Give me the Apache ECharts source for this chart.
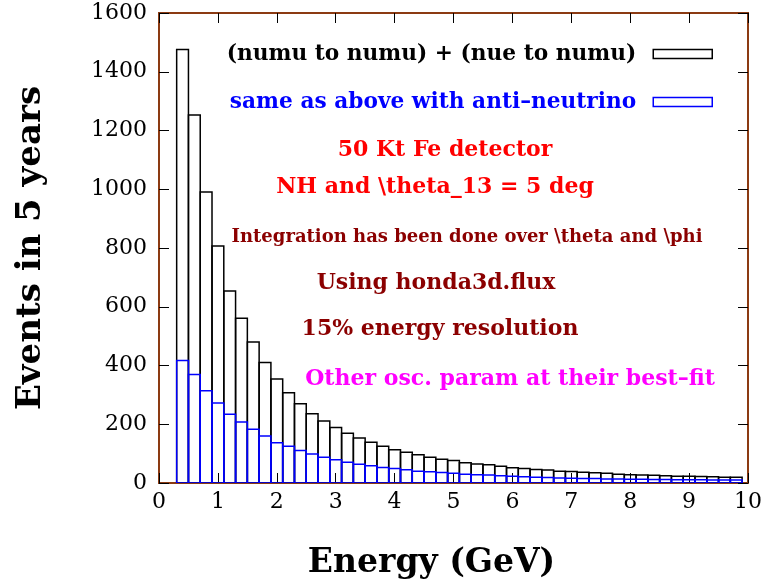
<!DOCTYPE html>
<html>
<head>
<meta charset="utf-8">
<script src="https://cdn.jsdelivr.net/npm/echarts@6/dist/echarts.min.js"></script>
<style>
html,body{margin:0;padding:0;background:#fff;}
#chart{width:768px;height:586px;}
</style>
</head>
<body>
<div id="chart"></div>
<script>
// Bin centres (GeV), bin width 0.2 GeV
const binCenters = [0.4,0.6,0.8,1.0,1.2,1.4,1.6,1.8,2.0,2.2,2.4,2.6,2.8,3.0,3.2,3.4,3.6,3.8,4.0,4.2,4.4,4.6,4.8,5.0,5.2,5.4,5.6,5.8,6.0,6.2,6.4,6.6,6.8,7.0,7.2,7.4,7.6,7.8,8.0,8.2,8.4,8.6,8.8,9.0,9.2,9.4,9.6,9.8];
const binWidth = 0.2;
const neutrinoEvents = [1476,1253,991,807,654,561,480,410,354,307,270,236,211,189,169,153,139,125,113,105,96,88,81,77,69,65,62,57,52,49,46,44,40,39,37,35,33,30,28,27,26,25,23,23,22,21,20,20];
const antiNeutrinoEvents = [417,369,314,272,234,208,183,160,137,125,111,99,88,79,71,64,59,53,49,45,40,38,36,33,30,28,27,25,23,21,20,19,17,16,15,15,14,14,13,13,12,12,11,11,11,10,10,10];
const xTicks = [0,1,2,3,4,5,6,7,8,9,10];
const yTicks = [0,200,400,600,800,1000,1200,1400,1600];
const seriesNames = ['(numu to numu) + (nue to numu)', 'same as above with anti\u2013neutrino'];
const notes = [
  {text:'50 Kt Fe detector', color:'#ff0000'},
  {text:'NH and \\theta_13 = 5 deg', color:'#ff0000'},
  {text:'Integration has been done over \\theta and \\phi', color:'#8b0000'},
  {text:'Using honda3d.flux', color:'#8b0000'},
  {text:'15% energy resolution', color:'#8b0000'},
  {text:'Other osc. param at their best\u2013fit', color:'#ff00ff'}
];

const FONT = '"DejaVu Serif", serif';
const chart = echarts.init(document.getElementById('chart'), null, {renderer:'canvas'});

function histData(vals){
  return binCenters.map((c,i)=>[c-binWidth/2, c+binWidth/2, vals[i]]);
}
function makeRender(color){
  return function(params, api){
    const a = api.coord([api.value(0), api.value(2)]);
    const b = api.coord([api.value(1), 0]);
    return {type:'rect', shape:{x:a[0], y:a[1], width:b[0]-a[0], height:b[1]-a[1]},
      style:{fill:'none', stroke:color, lineWidth:1.5}};
  };
}

const noteLayout = [
  {x:445, y:150, size:22},
  {x:435, y:187, size:22},
  {x:467, y:237, size:18},
  {x:436, y:283, size:22},
  {x:440, y:329, size:22},
  {x:510, y:379, size:22}
];

const tick = {show:true, inside:true, length:10, lineStyle:{color:'#000', width:1}};
const hiddenLine = {show:false, onZero:false};

chart.setOption({
  backgroundColor:'#fff',
  animation:false,
  grid:{left:159, top:13, width:589, height:470, containLabel:false, outerBoundsMode:'none',
        show:true, borderColor:'#8B3A12', borderWidth:2, backgroundColor:'transparent'},
  xAxis:[
    {type:'value', position:'bottom', min:0, max:10, interval:1,
      name:'Energy (GeV)', nameLocation:'middle', nameGap:64,
      nameTextStyle:{fontFamily:FONT, fontWeight:'bold', fontSize:33, color:'#000', padding:[0,44,0,0]},
      axisLine:hiddenLine, splitLine:{show:false}, axisTick:tick,
      axisLabel:{fontFamily:FONT, fontSize:22, color:'#000', margin:8,
        formatter:(v)=> xTicks.includes(v) ? String(v) : ''}},
    {type:'value', position:'top', min:0, max:10, interval:1,
      axisLine:hiddenLine, splitLine:{show:false}, axisLabel:{show:false}, axisTick:tick}
  ],
  yAxis:[
    {type:'value', min:0, max:1600, interval:200, position:'left',
     name:'Events in 5 years', nameLocation:'middle', nameGap:111,
     nameTextStyle:{fontFamily:FONT, fontWeight:'bold', fontSize:34, color:'#000'},
     axisLine:hiddenLine, splitLine:{show:false}, axisTick:tick,
     axisLabel:{fontFamily:FONT, fontSize:22, color:'#000', margin:12,
       formatter:(v)=> yTicks.includes(v) ? String(v) : ''}},
    {type:'value', min:0, max:1600, interval:200, position:'right',
     axisLine:hiddenLine, splitLine:{show:false}, axisLabel:{show:false}, axisTick:tick}
  ],
  legend:{
    orient:'vertical', right:50, top:37, align:'right', itemWidth:59, itemHeight:9, itemGap:24,
    selectedMode:false,
    data:[
      {name:seriesNames[0], icon:'rect', itemStyle:{color:'#fff', borderColor:'#000', borderWidth:1.5},
       textStyle:{color:'#000'}},
      {name:seriesNames[1], icon:'rect', itemStyle:{color:'#fff', borderColor:'#0000ff', borderWidth:1.5},
       textStyle:{color:'#0000ff'}}
    ],
    textStyle:{fontFamily:FONT, fontWeight:'bold', fontSize:21.7, lineHeight:24, padding:[0,12,0,0]}
  },
  graphic: notes.map((n,i)=>({
    type:'text', x:noteLayout[i].x, y:noteLayout[i].y, z:10,
    style:{text:n.text, fill:n.color, font:'bold '+noteLayout[i].size+'px '+FONT, textAlign:'center', textVerticalAlign:'middle'}
  })),
  series:[
    {type:'custom', name:seriesNames[0], xAxisIndex:0, yAxisIndex:0, renderItem:makeRender('#000'),
     encode:{x:[0,1], y:2}, data:histData(neutrinoEvents), z:2, clip:true},
    {type:'custom', name:seriesNames[1], xAxisIndex:0, yAxisIndex:0, renderItem:makeRender('#0000ff'),
     encode:{x:[0,1], y:2}, data:histData(antiNeutrinoEvents), z:3, clip:true}
  ]
});
</script>
</body>
</html>
